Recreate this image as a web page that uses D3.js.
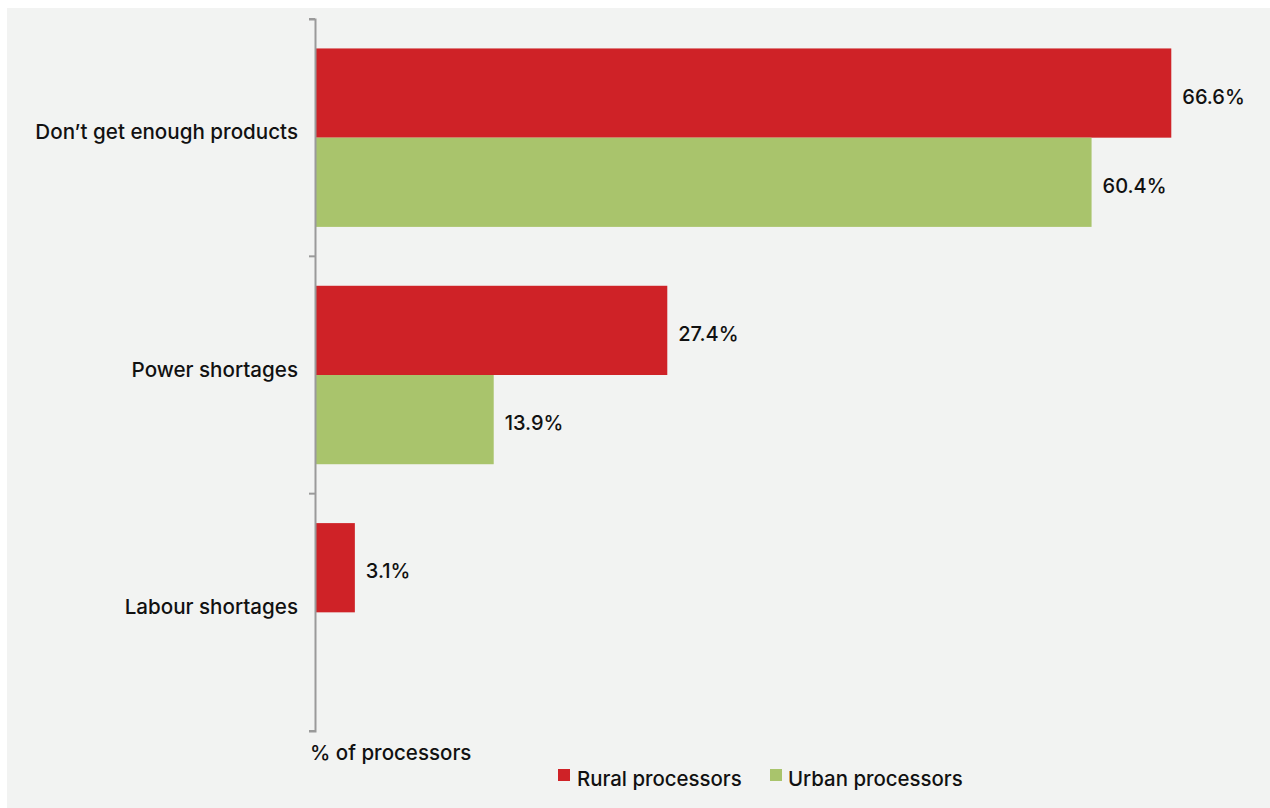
<!DOCTYPE html>
<html>
<head>
<meta charset="utf-8">
<script src="https://cdn.jsdelivr.net/npm/d3@7"></script>
<style>
  html, body { margin: 0; padding: 0; background: #ffffff; }
  svg { display: block; }
  text { font-family: Inter, "Liberation Sans", Arial, sans-serif; font-weight: 500; fill: #111; }
</style>
</head>
<body>
<svg id="chart" width="1270" height="808"></svg>
<script>
// Reported constraints, share of processors (%)
const categories = ["Don\u2019t get enough products", "Power shortages", "Labour shortages"];
const seriesNames = ["Rural processors", "Urban processors"];
const ruralValues = [66.6, 27.4, 3.1];
const urbanValues = [60.4, 13.9, null];
const axisTitle = "% of processors";

const colors = { "Rural processors": "#cf2227", "Urban processors": "#a9c46c" };

const rows = categories.map((c, i) => ({
  category: c,
  values: [
    { series: seriesNames[0], value: ruralValues[i] },
    { series: seriesNames[1], value: urbanValues[i] }
  ].filter(d => d.value != null)
}));

const svg = d3.select("#chart");
const W = 1270, H = 808;

// panel background
svg.append("rect").attr("x", 7).attr("y", 8).attr("width", W - 7).attr("height", H - 8)
  .attr("fill", "#f2f3f2");

const plotLeft = 315, plotTop = 19, plotBottom = 731;

const y = d3.scaleBand().domain(categories).range([plotTop, plotBottom]).paddingInner(0).paddingOuter(0);
const yInner = d3.scaleBand().domain(seriesNames).range([0, y.bandwidth()]).paddingOuter(0.33).paddingInner(0);
const x = d3.scaleLinear().domain([0, 70]).range([plotLeft, plotLeft + 900]);

// bars
const groups = svg.selectAll("g.cat").data(rows).join("g")
  .attr("class", "cat")
  .attr("transform", d => `translate(0,${y(d.category)})`);

groups.selectAll("rect").data(d => d.values).join("rect")
  .attr("x", x(0))
  .attr("y", d => yInner(d.series))
  .attr("width", d => x(d.value) - x(0))
  .attr("height", yInner.bandwidth())
  .attr("fill", d => colors[d.series]);

groups.selectAll("text.val").data(d => d.values).join("text")
  .attr("class", "val")
  .attr("x", d => x(d.value) + 11)
  .attr("y", d => yInner(d.series) + yInner.bandwidth() / 2 + 5)
  .attr("dominant-baseline", "middle")
  .attr("font-size", 20)
  .text(d => d.value.toFixed(1) + "%");

// category axis
const yAxis = d3.axisLeft(y).tickSize(6).tickSizeOuter(6).tickFormat("");
const axisG = svg.append("g").attr("transform", `translate(${plotLeft},0)`).call(yAxis);
axisG.select(".domain").attr("stroke", "#9a9a9a").attr("stroke-width", 2);
axisG.selectAll(".tick").remove();
// boundary ticks between categories
const boundaries = categories.map(c => y(c)).concat([plotBottom]);
axisG.selectAll("line.b").data(boundaries).join("line")
  .attr("class", "b")
  .attr("x1", -6).attr("x2", 0)
  .attr("y1", d => d).attr("y2", d => d)
  .attr("stroke", "#9a9a9a").attr("stroke-width", 2);

// category labels
svg.selectAll("text.cat").data(categories).join("text")
  .attr("class", "cat")
  .attr("x", 298)
  .attr("y", d => y(d) + y.bandwidth() / 2 - 4)
  .attr("text-anchor", "end")
  .attr("dominant-baseline", "middle")
  .attr("font-size", 20.6)
  .text(d => d);

// axis title
svg.append("text")
  .attr("x", 310).attr("y", 760)
  .attr("font-size", 20.5)
  .text(axisTitle);

// legend
const legendItems = [
  { name: seriesNames[0], sx: 558, tx: 577 },
  { name: seriesNames[1], sx: 770, tx: 788 }
];
const lg = svg.append("g");
lg.selectAll("rect").data(legendItems).join("rect")
  .attr("x", d => d.sx).attr("y", 769)
  .attr("width", 12).attr("height", 12)
  .attr("fill", d => colors[d.name]);
lg.selectAll("text").data(legendItems).join("text")
  .attr("x", d => d.tx).attr("y", 786)
  .attr("font-size", 20.4)
  .text(d => d.name);
</script>
</body>
</html>
